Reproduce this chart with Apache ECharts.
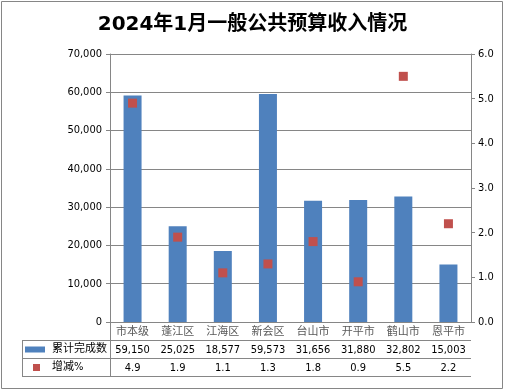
<!DOCTYPE html>
<html><head><meta charset="utf-8">
<script src="https://cdn.jsdelivr.net/npm/echarts@6/dist/echarts.min.js"></script>
<style>html,body{margin:0;padding:0;background:#fff}#c{width:505px;height:391px}</style>
</head><body><div id="c"></div>
<script>
var categories = ['市本级','蓬江区','江海区','新会区','台山市','开平市','鹤山市','恩平市'];
var totals = [59150, 25025, 18577, 59573, 31656, 31880, 32802, 15003];
var changes = [4.9, 1.9, 1.1, 1.3, 1.8, 0.9, 5.5, 2.2];
var leftTicks = {min: 0, max: 70000, interval: 10000};
var rightTicks = {min: 0, max: 6, interval: 1};
var seriesNames = ['累计完成数', '增减%'];

var FONT = '"DejaVu Sans Condensed","DejaVu Sans","Noto Sans CJK SC",sans-serif';
var TFONT = '"DejaVu Sans","Noto Sans CJK SC",sans-serif';
var GRAY = '#868686';
var chart = echarts.init(document.getElementById('c'), null, {renderer: 'canvas'});
function fmt(v){ return Number(v).toLocaleString('en-US'); }

var option = {
  animation: false,
  backgroundColor: '#fff',
  textStyle: {fontFamily: FONT},
  title: {
    text: '2024年1月一般公共预算收入情况',
    left: 'center', top: 10,
    textStyle: {fontFamily: TFONT, fontSize: 20, fontWeight: 'bold', color: '#000'}
  },
  legend: [
    {orient: 'vertical', left: 25, top: 344, padding: 0, itemWidth: 20, itemHeight: 6,
     textStyle: {fontFamily: FONT, fontSize: 11, color: '#000', padding: [0, 0, 0, 2]},
     data: [{name: seriesNames[0], icon: 'rect'}], selectedMode: false},
    {orient: 'vertical', left: 33, top: 362, padding: 0, itemWidth: 7, itemHeight: 7,
     textStyle: {fontFamily: FONT, fontSize: 11, color: '#000', padding: [0, 0, 0, 7]},
     data: [{name: seriesNames[1], icon: 'rect'}], selectedMode: false}
  ],
  grid: {left: 110, right: 34, top: 54, bottom: 69, containLabel: false},
  xAxis: [
    {type: 'category', data: categories, position: 'bottom',
     axisLine: {lineStyle: {color: GRAY}},
     axisTick: {length: 54, interval: 0, lineStyle: {color: GRAY}},
     axisLabel: {interval: 0, margin: 5, fontSize: 11, color: '#595959', fontFamily: FONT}},
    {type: 'category', data: categories, position: 'bottom', offset: 18,
     axisLine: {show: false}, axisTick: {show: false},
     axisLabel: {interval: 0, margin: 5, fontSize: 11, color: '#000', fontFamily: FONT,
       formatter: function(v, i){ return fmt(totals[i]); }}},
    {type: 'category', data: categories, position: 'bottom', offset: 36,
     axisLine: {show: false}, axisTick: {show: false},
     axisLabel: {interval: 0, margin: 5, fontSize: 11, color: '#000', fontFamily: FONT,
       formatter: function(v, i){ return changes[i].toFixed(1); }}}
  ],
  yAxis: [
    {type: 'value', min: leftTicks.min, max: leftTicks.max, interval: leftTicks.interval,
     axisLine: {show: true, lineStyle: {color: GRAY}},
     axisTick: {show: true, length: 4, lineStyle: {color: GRAY}},
     splitLine: {lineStyle: {color: GRAY}},
     axisLabel: {margin: 8, fontSize: 11, color: '#000', fontFamily: FONT, formatter: fmt}},
    {type: 'value', min: rightTicks.min, max: rightTicks.max, interval: rightTicks.interval, position: 'right',
     axisLine: {show: true, lineStyle: {color: GRAY}},
     axisTick: {show: true, length: 4, lineStyle: {color: GRAY}},
     splitLine: {show: false},
     axisLabel: {margin: 7, fontSize: 11, color: '#000', fontFamily: FONT,
       formatter: function(v){ return Number(v).toFixed(1); }}}
  ],
  series: [
    {name: seriesNames[0], type: 'bar', data: totals, barWidth: 18, xAxisIndex: 0, yAxisIndex: 0,
     itemStyle: {color: '#4F81BD'}},
    {name: seriesNames[1], type: 'scatter', data: changes, xAxisIndex: 0, yAxisIndex: 1,
     symbol: 'rect', symbolSize: 9, itemStyle: {color: '#C0504D', opacity: 1}}
  ],
  graphic: [
    {type: 'rect', shape: {x: 1.5, y: 1.5, width: 501, height: 387}, style: {fill: null, stroke: GRAY, lineWidth: 1}, silent: true},
    {type: 'line', shape: {x1: 22, y1: 340.5, x2: 471, y2: 340.5}, style: {stroke: GRAY, lineWidth: 1}, silent: true},
    {type: 'line', shape: {x1: 22, y1: 358.5, x2: 471, y2: 358.5}, style: {stroke: GRAY, lineWidth: 1}, silent: true},
    {type: 'line', shape: {x1: 22, y1: 376.5, x2: 471, y2: 376.5}, style: {stroke: GRAY, lineWidth: 1}, silent: true},
    {type: 'line', shape: {x1: 22.5, y1: 340, x2: 22.5, y2: 377}, style: {stroke: GRAY, lineWidth: 1}, silent: true},
    {type: 'line', shape: {x1: 110.5, y1: 322, x2: 110.5, y2: 377}, style: {stroke: GRAY, lineWidth: 1}, silent: true}
  ]
};
chart.setOption(option);
</script>
</body></html>
